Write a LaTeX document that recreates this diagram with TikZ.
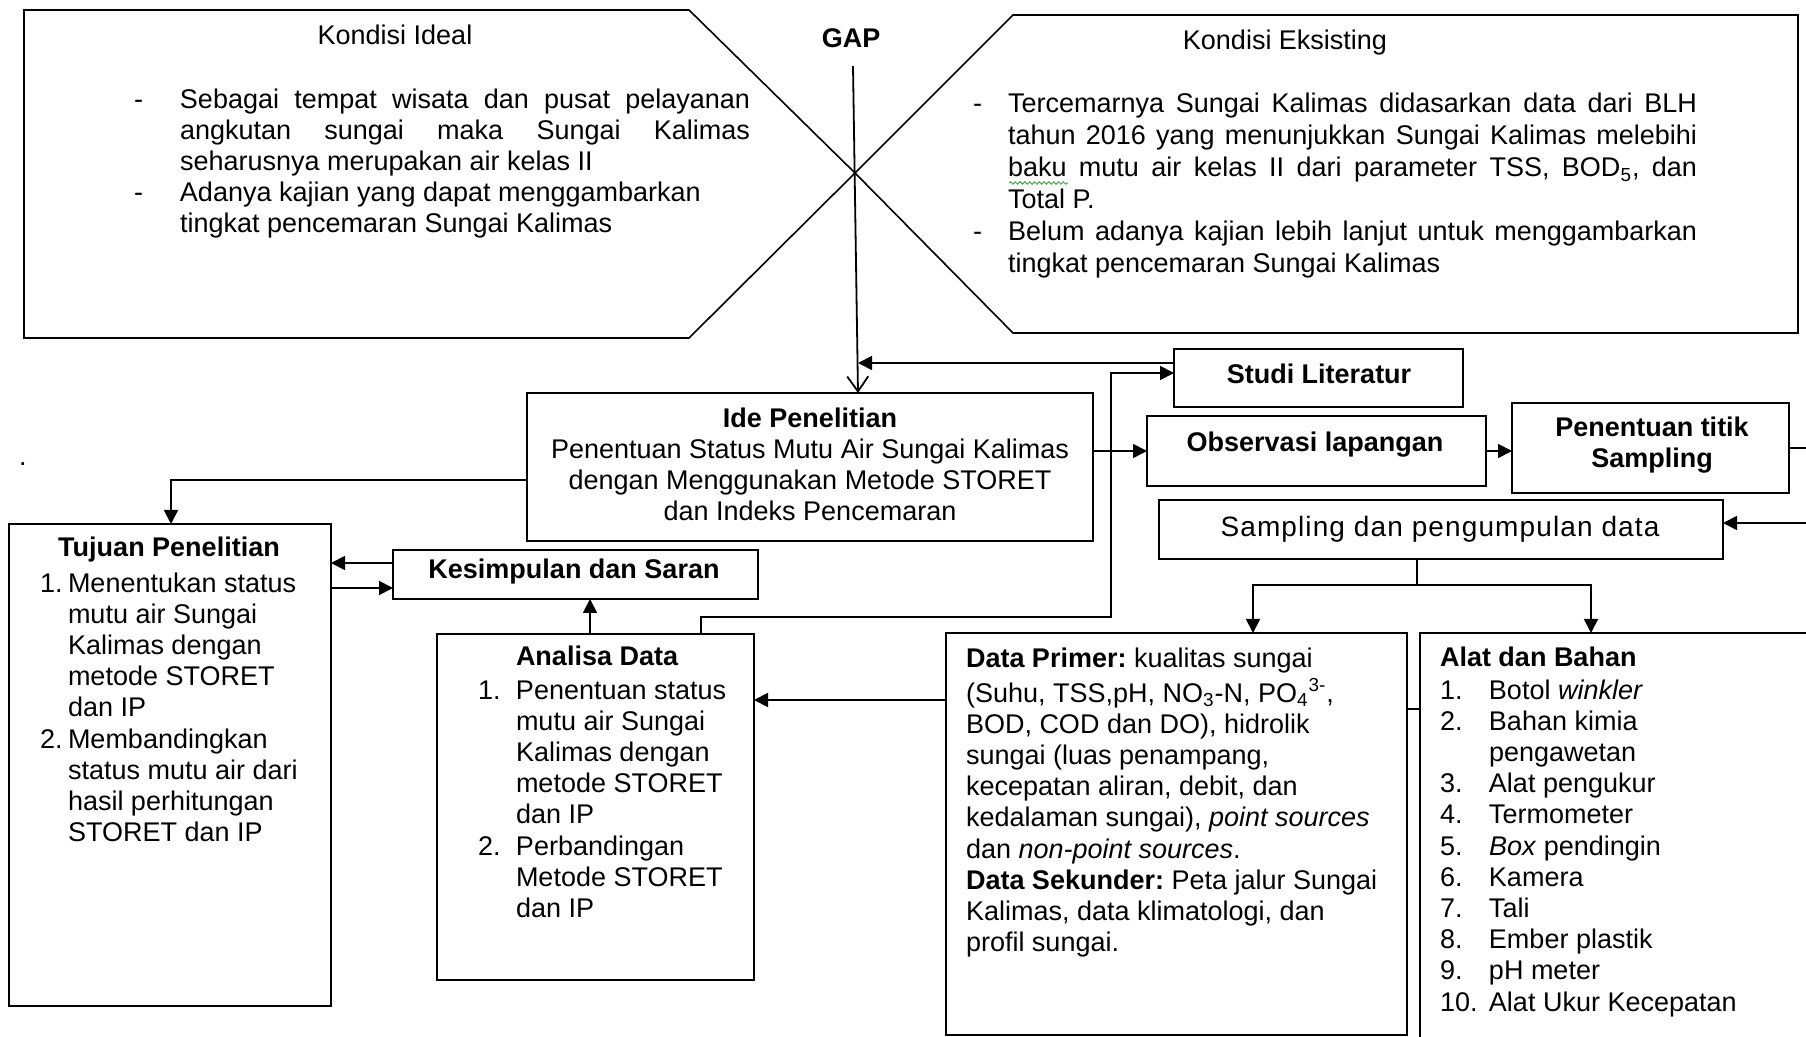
\documentclass[tikz,border=0pt]{standalone}
\usepackage{fontspec}
\setmainfont{Liberation Sans}
\usetikzlibrary{arrows.meta,decorations.pathmorphing}
\definecolor{wavegreen}{RGB}{70,170,70}
\newcommand{\numlbl}[2]{\makebox[#1][l]{#2}}
\tolerance=10000
\hbadness=10000
\frenchspacing
\begin{document}
\begin{tikzpicture}[x=0.5pt,y=-0.5pt,
  every node/.style={inner sep=0pt, outer sep=0pt, font=\fontsize{13.5}{15.6}\selectfont},
  box/.style={draw, line width=0.9pt, rectangle},
  conn/.style={line width=0.9pt},
  arr/.style={conn, -{Triangle[length=7pt,width=7pt]}},
  shapeline/.style={line width=0.8pt},
  bt/.style={font=\fontsize{13.5}{15.6}\selectfont\bfseries}
]
\useasboundingbox (0,0) rectangle (1806,1037);
\clip (0,0) rectangle (1806,1037);

% ---- top shapes
\draw[shapeline] (24,10) -- (689,10) -- (855,173) -- (689,338) -- (24,338) -- cycle;
\draw[shapeline] (855,173) -- (1013,15) -- (1798,15) -- (1798,333) -- (1013,333) -- cycle;

\node[anchor=base] (idealhead) at (395,45) {Kondisi Ideal};
\node[anchor=north west, text width=308pt, align=justify] (ideallist) at (134,86.2) {%
\hangindent=23pt\hangafter=1\noindent\strut\numlbl{23pt}{-}Sebagai tempat wisata dan pusat pelayanan\linebreak angkutan sungai maka Sungai Kalimas\linebreak seharusnya merupakan air kelas II\par
\hangindent=23pt\hangafter=1\noindent\numlbl{23pt}{-}Adanya kajian yang dapat menggambarkan\newline tingkat pencemaran Sungai Kalimas\par};

\node[anchor=base] (eksishead) at (1285,50) {Kondisi Eksisting};
\node[anchor=north west, text width=362pt, align=justify, font=\fontsize{13.5}{16}\selectfont] (eksislist) at (973,90.6) {%
\hangindent=17.5pt\hangafter=1\noindent\strut\numlbl{17.5pt}{-}Tercemarnya Sungai Kalimas didasarkan data dari BLH\linebreak tahun 2016 yang menunjukkan Sungai Kalimas melebihi\linebreak baku mutu air kelas II dari parameter TSS, BOD\textsubscript{5}, dan\linebreak Total P.\par
\hangindent=17.5pt\hangafter=1\noindent\numlbl{17.5pt}{-}Belum adanya kajian lebih lanjut untuk menggambarkan\linebreak tingkat pencemaran Sungai Kalimas\par};
\draw[wavegreen, line width=0.5pt, decorate, decoration={snake, amplitude=0.6pt, segment length=2.4pt}] (1009,183) -- (1068,183);

\node[bt, anchor=base] (gap) at (851,48) {GAP};

% ---- boxes
\node[box, minimum width=283pt, minimum height=74pt] (ide) at (810,467) {};
\node[box, minimum width=144.5pt, minimum height=29pt] (studi) at (1318.5,378) {};
\node[box, minimum width=169.5pt, minimum height=35pt] (obs) at (1316.5,451) {};
\node[box, minimum width=138.5pt, minimum height=45pt] (pen) at (1650.5,448) {};
\node[box, minimum width=282pt, minimum height=29.5pt] (samp) at (1441,529.5) {};
\node[box, minimum width=161pt, minimum height=241pt] (tuj) at (170,765) {};
\node[box, minimum width=182.5pt, minimum height=24.5pt] (kes) at (575.5,574.5) {};
\node[box, minimum width=158.5pt, minimum height=173pt] (ana) at (595.5,807) {};
\node[box, minimum width=230.5pt, minimum height=201pt] (dp) at (1176.5,834) {};
\node[box, minimum width=210pt, minimum height=206pt] (alat) at (1630,839) {};

% ---- texts
\node[anchor=north, align=center] (idetext) at (810,405.2) {\strut\textbf{Ide Penelitian}\\Penentuan Status Mutu Air Sungai Kalimas\\dengan Menggunakan Metode STORET\\dan Indeks Pencemaran};
\node[bt, anchor=base] (studitext) at (1319,384) {Studi Literatur};
\node[bt, anchor=base] (obstext) at (1315,452) {Observasi lapangan};
\node[bt, anchor=north, align=center] (pentext) at (1652,414.2) {\strut Penentuan titik\\Sampling};
\node[anchor=base, font=\fontsize{14}{16}\selectfont\addfontfeature{LetterSpace=4}] (samptext) at (1440,537) {Sampling dan pengumpulan data};
\node[bt, anchor=base] (kestext) at (574,579) {Kesimpulan dan Saran};

\node[bt, anchor=base] (tujtitle) at (169,557) {Tujuan Penelitian};
\node[anchor=north west, align=left] (tujlist) at (40,570.2) {%
\strut\numlbl{14pt}{1.}Menentukan status\\
\hspace*{14pt}mutu air Sungai\\
\hspace*{14pt}Kalimas dengan\\
\hspace*{14pt}metode STORET\\
\hspace*{14pt}dan IP\\
\numlbl{14pt}{2.}Membandingkan\\
\hspace*{14pt}status mutu air dari\\
\hspace*{14pt}hasil perhitungan\\
\hspace*{14pt}STORET dan IP};

\node[bt, anchor=base west] (anatitle) at (516,666) {Analisa Data};
\node[anchor=north west, align=left] (analist) at (478,677.2) {%
\strut\numlbl{19pt}{1.}Penentuan status\\
\hspace*{19pt}mutu air Sungai\\
\hspace*{19pt}Kalimas dengan\\
\hspace*{19pt}metode STORET\\
\hspace*{19pt}dan IP\\
\numlbl{19pt}{2.}Perbandingan\\
\hspace*{19pt}Metode STORET\\
\hspace*{19pt}dan IP};

\node[anchor=north west, align=left] (dptext) at (966,645.2) {%
\strut\textbf{Data Primer:} kualitas sungai\\
(Suhu, TSS,pH, NO\textsubscript{3}-N, PO\textsubscript{4}\textsuperscript{3-},\\
BOD, COD dan DO), hidrolik\\
sungai (luas penampang,\\
kecepatan aliran, debit, dan\\
kedalaman sungai), \textit{point sources}\\
dan \textit{non-point sources}.\\
\textbf{Data Sekunder:} Peta jalur Sungai\\
Kalimas, data klimatologi, dan\\
profil sungai.};

\node[bt, anchor=base west] (alattitle) at (1440,667) {Alat dan Bahan};
\node[anchor=north west, align=left] (alatlist) at (1440,677.2) {%
\strut\numlbl{24.5pt}{1.}Botol \textit{winkler}\\
\numlbl{24.5pt}{2.}Bahan kimia\\
\hspace*{24.5pt}pengawetan\\
\numlbl{24.5pt}{3.}Alat pengukur\\
\numlbl{24.5pt}{4.}Termometer\\
\numlbl{24.5pt}{5.}\textit{Box} pendingin\\
\numlbl{24.5pt}{6.}Kamera\\
\numlbl{24.5pt}{7.}Tali\\
\numlbl{24.5pt}{8.}Ember plastik\\
\numlbl{24.5pt}{9.}pH meter\\
\numlbl{24.5pt}{10.}Alat Ukur Kecepatan};

\node[anchor=base] (speck) at (23,466) {.};

% ---- connectors
\coordinate (gtop) at (853,66);
\coordinate (gapjoin) at (858,363);
\coordinate (split) at (1417,585);
\draw[conn, -{Straight Barb[length=7.5pt,width=10.5pt]}] (gtop) -- (858,0 |- ide.north);
\draw[arr] (studi.west |- gapjoin) -- (gapjoin);
\draw[arr] (701,0 |- ana.north) -- (701,617) -- (1111,617) -- (1111,373) -- (studi.west |- 0,373);
\draw[arr] (ide.east |- obs.west) -- (obs.west);
\draw[arr] (obs.east) -- (obs.east -| pen.west);
\draw[arr] (pen.east) -- (1840,0 |- pen.east) -- (1840,523) -- (samp.east |- 0,523);
\draw[conn] (samp.south -| split) -- (split);
\draw[arr] (split) -| (1253,0 |- dp.north);
\draw[arr] (split) -| (1591,0 |- alat.north);
\draw[arr] (dp.west |- 0,700) -- (ana.east |- 0,700);
\draw[conn] (dp.east |- 0,709) -- (alat.west |- 0,709);
\draw[arr] (590,0 |- ana.north) -- (590,0 |- kes.south);
\draw[arr] (kes.west |- 0,563) -- (tuj.east |- 0,563);
\draw[arr] (tuj.east |- 0,588) -- (kes.west |- 0,588);
\draw[arr] (ide.west |- 0,480) -| (171,0 |- tuj.north);
\end{tikzpicture}
\end{document}
